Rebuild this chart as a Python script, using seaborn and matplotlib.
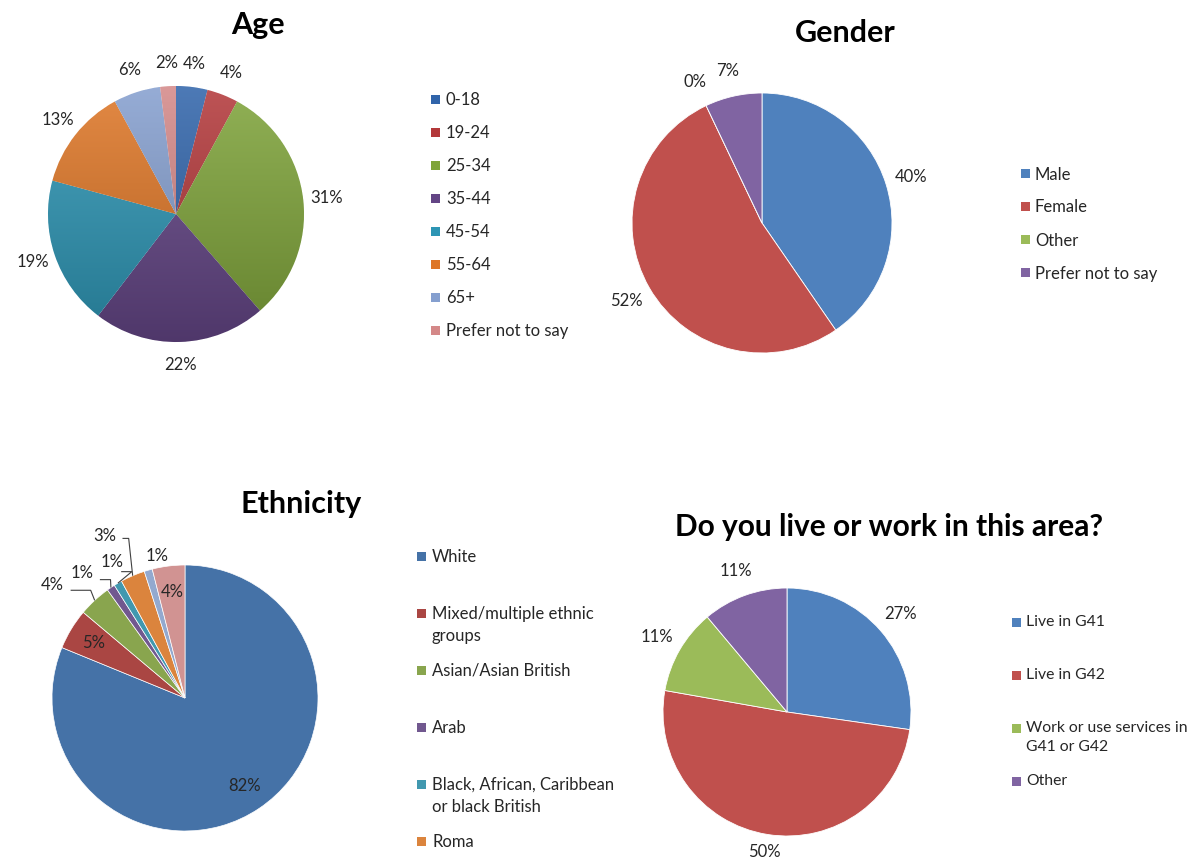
import textwrap
import numpy as np
import matplotlib
matplotlib.use("Agg")
import matplotlib.pyplot as plt
from matplotlib.patches import Rectangle
from matplotlib.colors import LinearSegmentedColormap, to_rgb
import seaborn as sns

# ---------------- data ----------------
age_labels = ["0-18", "19-24", "25-34", "35-44", "45-54", "55-64", "65+", "Prefer not to say"]
age_values = [4, 4, 31, 22, 19, 13, 6, 2]

gender_labels = ["Male", "Female", "Other", "Prefer not to say"]
gender_values = [40, 52, 0, 7]

eth_labels = ["White", "Mixed/multiple ethnic groups", "Asian/Asian British", "Arab",
              "Black, African, Caribbean or black British", "Roma",
              "Any other ethnic group", "Prefer not to say"]
eth_values = [82, 5, 4, 1, 1, 3, 1, 4]

live_labels = ["Live in G41", "Live in G42", "Work or use services in G41 or G42", "Other"]
live_values = [27, 50, 11, 11]

# ---------------- style ----------------
sns.set_theme(style="white")
plt.rcParams["font.family"] = ["Lato", "DejaVu Sans"]

age_colors = ["#3064AA", "#B3383A", "#7FA43A", "#634585", "#2D95B4", "#DE7626", "#859FCF", "#D48888"]
office_colors = ["#4F81BD", "#C0504D", "#9BBB59", "#8064A2"]
eth_colors = ["#4572A7", "#AA4643", "#89A54E", "#71588F", "#4198AF", "#DB843D", "#93A9CF", "#D19392"]

W, H = 1195, 860
fig = plt.figure(figsize=(W / 100, H / 100), dpi=100)
fig.patch.set_facecolor("white")

TXT = "#262626"
LABEL_FS = 12
TITLE_FS = 22


def fx(x):
    return x / W


def fy(y):
    return 1 - y / H


def pie_axes(cx, cy, r, pad=1.6):
    ax = fig.add_axes([(cx - r * pad) / W, 1 - (cy + r * pad) / H, 2 * r * pad / W, 2 * r * pad / H])
    ax.set_xlim(-pad, pad)
    ax.set_ylim(-pad, pad)
    ax.set_aspect("equal")
    ax.axis("off")
    return ax


def pct(values):
    return [f"{v:g}%" for v in values]


def legend(labels, colors, xm, xt, y0, step, wrap, fs=LABEL_FS, ls=1.45):
    for i, (lab, col) in enumerate(zip(labels, colors)):
        y = y0 + i * step
        if y > H:
            continue
        fig.patches.append(Rectangle((fx(xm), fy(y + 4.5)), 9 / W, 9 / H,
                                     transform=fig.transFigure, facecolor=col, edgecolor="none"))
        fig.text(fx(xt), fy(y - 7), textwrap.fill(lab, wrap), fontsize=fs, color=TXT,
                 va="top", ha="left", linespacing=ls)


def shade(ax, wedges, colors):
    grad = np.linspace(0, 1, 256).reshape(-1, 1)
    for w, c in zip(wedges, colors):
        base = np.array(to_rgb(c))
        light = np.clip(base + (1 - base) * 0.14, 0, 1)
        dark = base * 0.8
        cmap = LinearSegmentedColormap.from_list("g", [dark, light])
        im = ax.imshow(grad, extent=[-1, 1, -1, 1], cmap=cmap, aspect="auto",
                       origin="lower", zorder=w.get_zorder() + 0.1, interpolation="bilinear")
        im.set_clip_path(w)


def center_texts(texts):
    for t in texts:
        t.set_ha("center")
        t.set_va("center")


# ---------------- Age ----------------
ax = pie_axes(176, 214, 128)
wedges, texts = ax.pie(age_values, labels=pct(age_values), colors=age_colors, startangle=90,
                       counterclock=False, labeldistance=1.18,
                       wedgeprops=dict(linewidth=0.6, edgecolor="white"),
                       textprops=dict(fontsize=LABEL_FS, color=TXT))
center_texts(texts)
shade(ax, wedges, age_colors)
ax.set_xlim(-1.6, 1.6); ax.set_ylim(-1.6, 1.6)
fig.text(fx(258), fy(34), "Age", fontsize=TITLE_FS, fontweight="bold", ha="center", va="baseline", color="black")
legend(age_labels, age_colors, 431, 446, 99, 33, 30)

# ---------------- Gender ----------------
ax = pie_axes(762, 223, 130)
wedges, texts = ax.pie(gender_values, labels=pct(gender_values), colors=office_colors, startangle=90,
                       counterclock=False, labeldistance=1.2,
                       wedgeprops=dict(linewidth=0.6, edgecolor="white"),
                       textprops=dict(fontsize=LABEL_FS, color=TXT))
center_texts(texts)
ax.set_xlim(-1.6, 1.6); ax.set_ylim(-1.6, 1.6)
fig.text(fx(845), fy(42), "Gender", fontsize=TITLE_FS, fontweight="bold", ha="center", va="baseline", color="black")
legend(gender_labels, office_colors, 1021, 1035, 173.5, 33, 30)

# ---------------- Ethnicity ----------------
ax = pie_axes(185, 698, 133)
wedges, texts = ax.pie(eth_values, labels=pct(eth_values), colors=eth_colors, startangle=90,
                       counterclock=False, labeldistance=0.8,
                       wedgeprops=dict(linewidth=0.5, edgecolor="white"),
                       textprops=dict(fontsize=LABEL_FS, color=TXT))
center_texts(texts)
# outside labels with leader lines (label position in units of radius)
outside = {
    2: dict(pos=(-1.0, 0.85), line=True, start=(-0.86, 0.81)),
    3: dict(pos=(-0.77, 0.94), line=True, start=(-0.64, 0.89)),
    4: dict(pos=(-0.55, 1.02), line=True, start=(-0.48, 0.95)),
    5: dict(pos=(-0.60, 1.22), line=True, start=(-0.47, 1.20)),
    6: dict(pos=(-0.21, 1.07), line=False),
}
for i, spec in outside.items():
    w = wedges[i]
    mid = np.deg2rad((w.theta1 + w.theta2) / 2)
    ex, ey = np.cos(mid), np.sin(mid)
    texts[i].set_position(spec["pos"])
    if spec["line"]:
        sx, sy = spec["start"]
        elbow_x = ex - 0.03 if i in (2, 5) else sx + 0.08
        ax.plot([sx, elbow_x, ex], [sy, sy, ey], color="#404040", lw=0.8, zorder=5,
                solid_capstyle="butt")
ax.set_xlim(-1.6, 1.6); ax.set_ylim(-1.6, 1.6)
fig.text(fx(301), fy(513), "Ethnicity", fontsize=TITLE_FS, fontweight="bold", ha="center", va="baseline", color="black")
legend(eth_labels, eth_colors, 417, 432, 556, 57, 25, ls=1.5)

# ---------------- Live / work ----------------
ax = pie_axes(787, 712, 124)
wedges, texts = ax.pie(live_values, labels=pct(live_values), colors=office_colors, startangle=90,
                       counterclock=False, labeldistance=1.21,
                       wedgeprops=dict(linewidth=0.6, edgecolor="white"),
                       textprops=dict(fontsize=LABEL_FS, color=TXT))
center_texts(texts)
# bottom label sits closer to the pie so it stays inside the canvas
bx, by = texts[1].get_position()
texts[1].set_position((bx * 1.14 / 1.21, by * 1.14 / 1.21))
ax.set_xlim(-1.6, 1.6); ax.set_ylim(-1.6, 1.6)
fig.text(fx(889), fy(536), "Do you live or work in this area?", fontsize=21.5, fontweight="bold",
         ha="center", va="baseline", color="black")
legend(live_labels, office_colors, 1012, 1026, 622, 53, 23, fs=11.3, ls=1.45)

fig.savefig("out.png", dpi=100, facecolor="white")
